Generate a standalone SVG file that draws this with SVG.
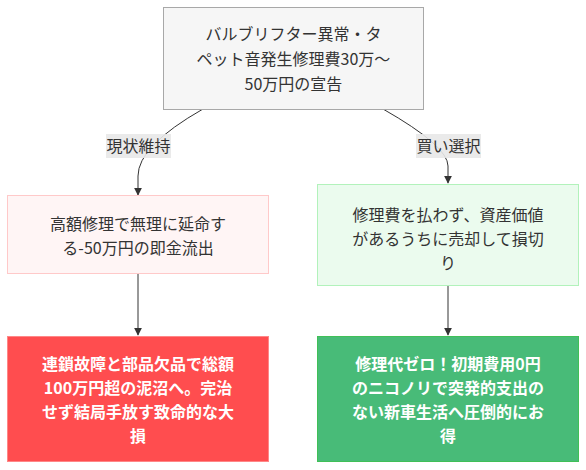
<svg xmlns="http://www.w3.org/2000/svg" width="586" height="470" viewBox="0 0 586 470">
<style>
text{font-family:"Noto Sans CJK JP","Noto Sans",sans-serif;font-size:16px;text-anchor:middle;fill:#333}
.w{fill:#fff;font-weight:bold}
.e{fill:none;stroke:#333;stroke-width:1}
.lb{fill:#e8e8e8;opacity:0.9}
</style>
<defs>
<marker id="ah" viewBox="0 0 10 10" refX="9" refY="5" markerWidth="8" markerHeight="8" orient="auto" markerUnits="userSpaceOnUse">
<path d="M0,0L10,5L0,10z" fill="#333"/>
</marker>
</defs>
<g id="edges">
<path class="e" d="M203,109 Q138,146 138,176 L138,195" marker-end="url(#ah)"/>
<path class="e" d="M383,109 Q448,146 448,166 L448,183" marker-end="url(#ah)"/>
<path class="e" d="M138,273 L138,335" marker-end="url(#ah)"/>
<path class="e" d="M448,285 L448,335" marker-end="url(#ah)"/>
<rect class="lb" x="106" y="134" width="65" height="24"/>
<text x="138.5" y="152">現状維持</text>
<rect class="lb" x="416" y="134" width="65" height="24"/>
<text x="448.5" y="152">買い選択</text>
</g>
<g id="n0">
<rect x="163.5" y="7.5" width="260" height="102" fill="#f6f6f6" stroke="#a8a8a8"/>
<text x="293.5" y="40">バルブリフター異常・タ</text>
<text x="293.5" y="65">ペット音発生修理費30万〜</text>
<text x="293.5" y="90">50万円の宣告</text>
</g>
<g id="n1">
<rect x="7.5" y="195.5" width="261" height="78" fill="#fff5f5" stroke="#ffc9c9"/>
<text x="138" y="230">高額修理で無理に延命す</text>
<text x="138" y="254">る-50万円の即金流出</text>
</g>
<g id="n2">
<rect x="317.5" y="184.5" width="261" height="101" fill="#ebfbee" stroke="#b2f2bb"/>
<text x="448" y="221">修理費を払わず、資産価値</text>
<text x="448" y="245">があるうちに売却して損切</text>
<text x="448" y="269">り</text>
</g>
<g id="n3">
<rect x="7.5" y="336.5" width="261" height="125" fill="#ff4d4f" stroke="#ff8787"/>
<text class="w" x="138" y="370">連鎖故障と部品欠品で総額</text>
<text class="w" x="138" y="394">100万円超の泥沼へ。完治</text>
<text class="w" x="138" y="418">せず結局手放す致命的な大</text>
<text class="w" x="138" y="442">損</text>
</g>
<g id="n4">
<rect x="317.5" y="336.5" width="261" height="125" fill="#48bb78" stroke="#40c057"/>
<text class="w" x="448" y="370">修理代ゼロ！初期費用0円</text>
<text class="w" x="448" y="394">のニコノリで突発的支出の</text>
<text class="w" x="448" y="418">ない新車生活へ圧倒的にお</text>
<text class="w" x="448" y="442">得</text>
</g>
</svg>
